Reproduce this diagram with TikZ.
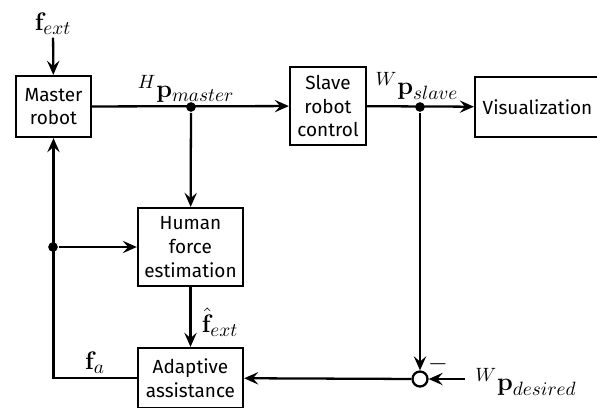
\documentclass[tikz,border=0pt]{standalone}
\usepackage{amsmath,amssymb}
\usepackage[no-math]{fontspec}
\setmainfont{Fira Sans}
\usepackage{tikz}
\usetikzlibrary{positioning,arrows.meta}

\begin{document}
\begin{tikzpicture}[x=0.02cm,y=-0.02cm,line width=1.3pt,>={Stealth[length=8pt,width=7pt,inset=3pt]},
    font=\fontsize{10.8}{13.5}\selectfont,
    block/.style={draw,align=center,inner sep=1pt},
    signal/.style={font=\fontsize{15}{17}\selectfont,inner sep=1pt},
    dot/.style={circle,fill,inner sep=0pt,minimum size=5.5pt}]
  \clip (0,0) rectangle (597,407);
  % blocks
  \node[block,minimum width=1.5cm,minimum height=1.22cm] (master) at (53.5,106.5) {Master\\robot};
  \node[block,minimum width=1.52cm,minimum height=1.56cm] (slave) at (328,106) {Slave\\robot\\control};
  \node[block,minimum width=2.5cm,minimum height=1.2cm] (vis) at (537.5,107) {Visualization};
  \node[block,minimum width=2.1cm,minimum height=1.56cm] (human) at (190.5,247) {Human\\force\\estimation};
  \node[block,minimum width=2.1cm,minimum height=1.2cm] (adapt) at (190.5,378) {Adaptive\\assistance};
  \node[draw,circle,inner sep=0pt,minimum size=0.3cm] (sum) at (420,379) {};
  % branch points
  \node[dot] (mdot) at (191,107) {};
  \node[dot] (sdot) at (420,107) {};
  \node[dot] (ldot) at (53,247) {};
  % signals
  \node[signal] (fext) at (53,24) {$\mathbf{f}_{ext}$};
  \node[signal] (desired) at (526,382) {$^{W}\mathbf{p}_{desired}$};
  \node[signal] at (186,89) {$^{H}\mathbf{p}_{master}$};
  \node[signal] at (417,86) {$^{W}\mathbf{p}_{slave}$};
  \node[signal] at (220,322) {$\hat{\mathbf{f}}_{ext}$};
  \node[signal] at (95,363) {$\mathbf{f}_{a}$};
  \node[signal] at (438,364) {$-$};

  \draw[->] (fext) -- (master);
  \draw[->] (master) -- (slave);
  \draw[->] (mdot) -- (human);
  \draw[->] (slave) -- (vis);
  \draw[->] (sdot) -- (sum);
  \draw[->] ([xshift=-4pt]desired.west |- sum) -- (sum);
  \draw[->] (sum) -- (adapt);
  \draw[->] (human) -- (adapt);
  \draw[->] (adapt.west) -| (master.south);
  \draw[->] (ldot) -- (human);
\end{tikzpicture}
\end{document}
